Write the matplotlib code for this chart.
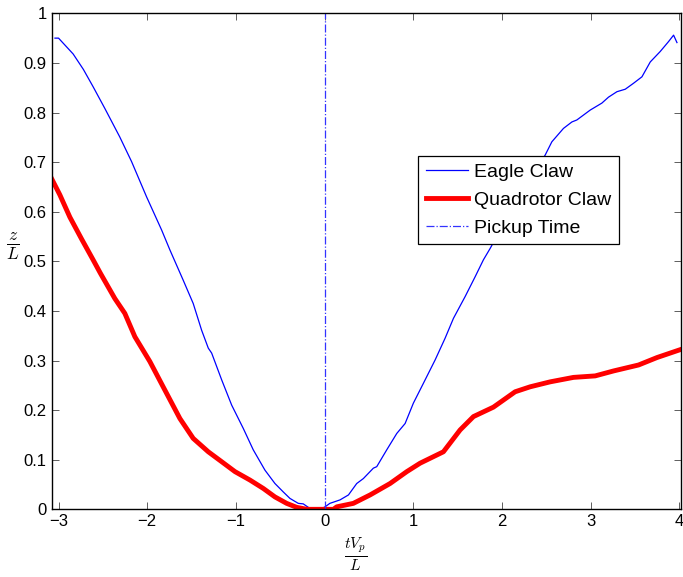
import matplotlib
matplotlib.use("Agg")
import matplotlib.pyplot as plt

plt.rcParams['font.family'] = ['Liberation Sans', 'DejaVu Sans']
plt.rcParams['mathtext.fontset'] = 'cm'

# Eagle Claw
eagle_x = [-3.04, -3.0, -2.835, -2.72, -2.61, -2.477, -2.31, -2.176, -2.007, -1.837,
           -1.744, -1.594, -1.481, -1.386, -1.311, -1.273, -1.16, -1.047, -0.916, -0.804,
           -0.672, -0.559, -0.465, -0.39, -0.296, -0.24, -0.183, -0.13, -0.05, 0.006,
           0.06, 0.175, 0.27, 0.363, 0.438, 0.551, 0.589, 0.702, 0.815, 0.909,
           1.002, 1.115, 1.247, 1.36, 1.454, 1.586, 1.699, 1.792, 1.868, 2.05,
           2.25, 2.488, 2.564, 2.695, 2.79, 2.846, 2.997, 3.128, 3.203, 3.298,
           3.392, 3.485, 3.58, 3.674, 3.786, 3.88, 3.937, 3.975]
eagle_y = [0.950, 0.950, 0.918, 0.887, 0.852, 0.808, 0.751, 0.701, 0.630, 0.563,
           0.523, 0.462, 0.415, 0.361, 0.325, 0.315, 0.261, 0.210, 0.163, 0.120,
           0.079, 0.052, 0.035, 0.022, 0.012, 0.011, 0.004, 0.0, 0.0, 0.005,
           0.012, 0.019, 0.029, 0.052, 0.062, 0.083, 0.086, 0.120, 0.153, 0.173,
           0.214, 0.254, 0.301, 0.345, 0.385, 0.429, 0.469, 0.503, 0.526, 0.585,
           0.650, 0.714, 0.741, 0.768, 0.781, 0.785, 0.805, 0.819, 0.831, 0.842,
           0.847, 0.859, 0.872, 0.902, 0.923, 0.943, 0.956, 0.941]

# Quadrotor Claw
quad_x = [-3.079, -2.985, -2.872, -2.74, -2.61, -2.528, -2.365, -2.252, -2.139, -1.97,
          -1.82, -1.631, -1.481, -1.311, -1.16, -1.01, -0.841, -0.69, -0.559, -0.427,
          -0.314, -0.2, 0.0, 0.1, 0.138, 0.325, 0.514, 0.739, 0.928, 1.078,
          1.341, 1.529, 1.68, 1.905, 2.15, 2.319, 2.545, 2.808, 3.053, 3.26,
          3.542, 3.75, 4.03]
quad_y = [0.667, 0.634, 0.589, 0.545, 0.503, 0.476, 0.425, 0.395, 0.348, 0.298,
          0.247, 0.183, 0.143, 0.116, 0.096, 0.076, 0.059, 0.042, 0.025, 0.012,
          0.004, 0.0, 0.0, 0.0, 0.005, 0.012, 0.029, 0.052, 0.076, 0.093,
          0.116, 0.160, 0.187, 0.206, 0.237, 0.247, 0.257, 0.266, 0.269, 0.279,
          0.291, 0.306, 0.323]

pickup_x = [0, 0]
pickup_y = [0, 1]

fig = plt.figure(figsize=(6.83, 5.77), dpi=100)
ax = fig.add_axes([0.0757, 0.1173, 0.9213, 0.8596])

ax.plot(eagle_x, eagle_y, color='#0000ff', lw=0.9, label='Eagle Claw')
ax.plot(quad_x, quad_y, color='#ff0000', lw=3.5, label='Quadrotor Claw')
ax.plot(pickup_x, pickup_y, color='#3333ff', lw=0.9, ls='-.', label='Pickup Time')

ax.set_xlim(-3.077, 4.02)
ax.set_ylim(0, 1)
ax.set_xticks(range(-3, 5))
yt = [i / 10 for i in range(11)]
ax.set_yticks(yt)
ax.set_yticklabels(['0'] + ['%.1f' % v for v in yt[1:-1]] + ['1'])
ax.tick_params(direction='in', top=True, right=True, labelsize=12, length=5,
               width=0.6, color='#444444')
for s in ax.spines.values():
    s.set_linewidth(1.0)

ax.set_xlabel(r'$\frac{tV_p}{L}$', fontsize=16, va='center')
ax.xaxis.set_label_coords(0.4836, -0.09)
ax.set_ylabel(r'$\frac{z}{L}$', fontsize=18, rotation=0, va='center')
ax.yaxis.set_label_coords(-0.061, 0.529)

leg = ax.legend(loc='upper left', bbox_to_anchor=(0.5825, 0.712), borderaxespad=0,
                fontsize=14, fancybox=False, framealpha=1, edgecolor='black',
                handlelength=2.2, handletextpad=0.3, labelspacing=0.52,
                borderpad=0.38)
leg.get_frame().set_linewidth(0.9)

fig.savefig('out.png', dpi=100)
